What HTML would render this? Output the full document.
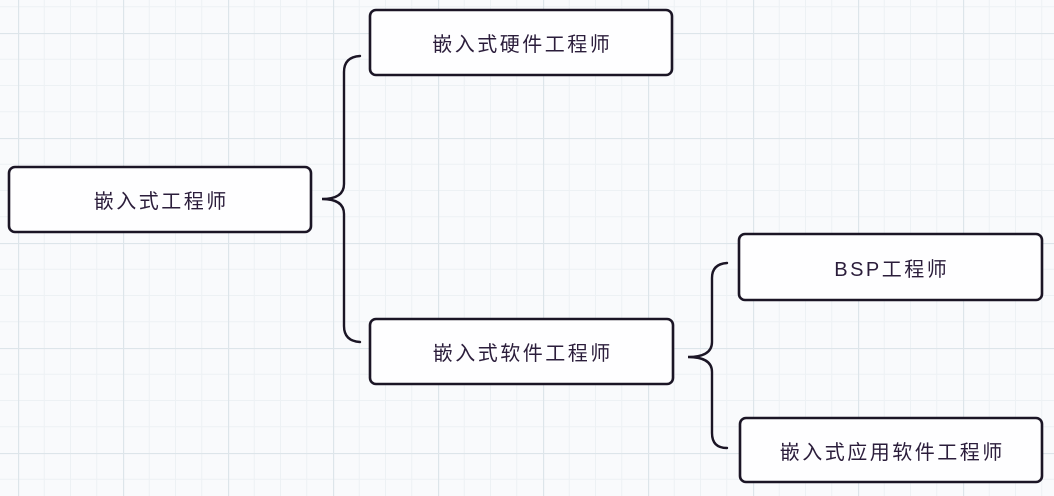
<!DOCTYPE html>
<html>
<head>
<meta charset="utf-8">
<style>
html,body{margin:0;padding:0;}
body{width:1054px;height:496px;overflow:hidden;background:#f9fafc;position:relative;}
svg{position:absolute;left:0;top:0;}
.t{position:absolute;display:flex;align-items:center;justify-content:center;
  font-family:"Liberation Sans","Noto Sans CJK SC",sans-serif;font-size:20px;letter-spacing:2.5px;
  color:#2b1d3b;white-space:nowrap;padding-left:2.5px;box-sizing:border-box;}
</style>
</head>
<body>
<svg width="1054" height="496" viewBox="0 0 1054 496" xmlns="http://www.w3.org/2000/svg">
  <defs>
    <pattern id="g" patternUnits="userSpaceOnUse" x="18" y="33" width="105" height="105">
      <rect width="105" height="105" fill="#f9fafc"/>
      <g stroke="#edf1f4" stroke-width="1">
        <line x1="26.25" y1="0" x2="26.25" y2="105"/>
        <line x1="52.5" y1="0" x2="52.5" y2="105"/>
        <line x1="78.75" y1="0" x2="78.75" y2="105"/>
        <line x1="0" y1="26.25" x2="105" y2="26.25"/>
        <line x1="0" y1="52.5" x2="105" y2="52.5"/>
        <line x1="0" y1="78.75" x2="105" y2="78.75"/>
      </g>
      <g stroke="#dde5ea" stroke-width="1.3">
        <line x1="0.5" y1="0" x2="0.5" y2="105"/>
        <line x1="0" y1="0.5" x2="105" y2="0.5"/>
      </g>
    </pattern>
  </defs>
  <rect width="1054" height="496" fill="url(#g)"/>

  <g fill="#fefeff" stroke="#1b1525" stroke-width="2.6">
    <rect x="9" y="167" width="302" height="65" rx="6"/>
    <rect x="370" y="10" width="302" height="65" rx="6"/>
    <rect x="370" y="319" width="303" height="65" rx="6"/>
    <rect x="739" y="234" width="303" height="66" rx="6"/>
    <rect x="740" y="418" width="302" height="64" rx="6"/>
  </g>

  <g fill="none" stroke="#1b1525" stroke-width="2.4" stroke-linecap="round">
    <path d="M360,56 Q344,57 344,72 L344,184 Q344,199 322,199 Q344,199 344,214 L344,326 Q344,341 360,342"/>
    <path d="M727,263 Q712,264 712,278 L712,342 Q712,357 688,357 Q712,357 712,372 L712,433 Q712,448 727,448"/>
  </g>
</svg>

<div class="t" style="left:9px;top:167px;width:302px;height:65px;">嵌入式工程师</div>
<div class="t" style="left:370px;top:10px;width:302px;height:65px;">嵌入式硬件工程师</div>
<div class="t" style="left:370px;top:319px;width:303px;height:65px;">嵌入式软件工程师</div>
<div class="t" style="left:739px;top:234px;width:303px;height:66px;">BSP工程师</div>
<div class="t" style="left:740px;top:418px;width:302px;height:64px;">嵌入式应用软件工程师</div>
</body>
</html>
